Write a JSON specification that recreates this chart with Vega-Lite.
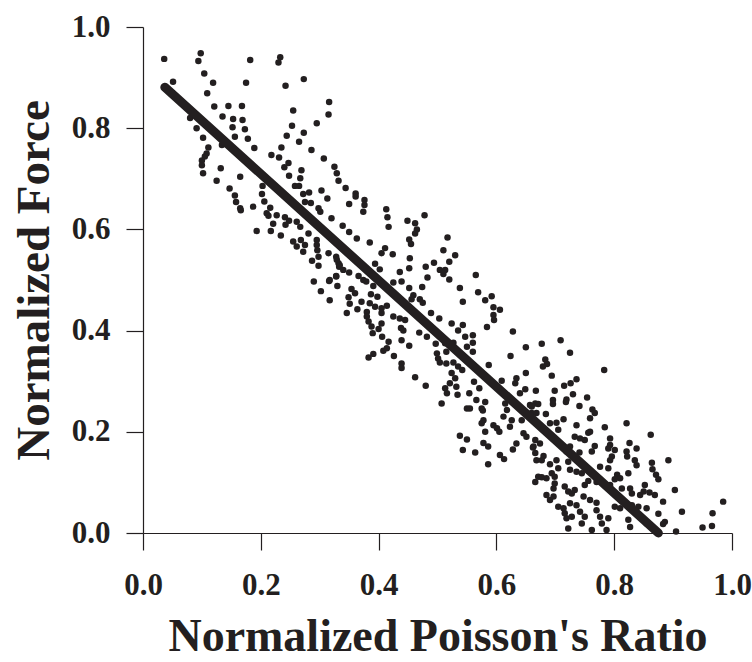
{
"$schema": "https://vega.github.io/schema/vega-lite/v6.json",
"width": 589, "height": 506,
"autosize": {"type": "none"},
"padding": {"left": 143, "top": 27, "right": 20, "bottom": 129},
"background": "white",
"config": {"view": {"stroke": null}, "font": "Liberation Serif"},
"datasets": {
"fit": [{"x": 0.037, "y": 0.881}, {"x": 0.875, "y": 0.0}],
"pts": [
{"x":0.036,"y":0.937},{"x":0.098,"y":0.948},{"x":0.094,"y":0.933},{"x":0.182,"y":0.935},{"x":0.233,"y":0.940},{"x":0.230,"y":0.930},{"x":0.051,"y":0.892},{"x":0.104,"y":0.908},{"x":0.119,"y":0.890},{"x":0.175,"y":0.890},{"x":0.242,"y":0.884},{"x":0.273,"y":0.897},{"x":0.109,"y":0.869},{"x":0.316,"y":0.852},{"x":0.121,"y":0.843},{"x":0.145,"y":0.844},{"x":0.168,"y":0.844},{"x":0.255,"y":0.835},{"x":0.315,"y":0.827},{"x":0.080,"y":0.820},{"x":0.135,"y":0.823},{"x":0.153,"y":0.818},{"x":0.169,"y":0.816},{"x":0.253,"y":0.805},{"x":0.295,"y":0.810},{"x":0.091,"y":0.800},{"x":0.152,"y":0.802},{"x":0.173,"y":0.798},{"x":0.273,"y":0.791},{"x":0.102,"y":0.781},{"x":0.156,"y":0.783},{"x":0.178,"y":0.779},{"x":0.244,"y":0.785},{"x":0.265,"y":0.773},{"x":0.134,"y":0.767},{"x":0.111,"y":0.762},{"x":0.189,"y":0.761},{"x":0.235,"y":0.762},{"x":0.286,"y":0.757},{"x":0.108,"y":0.750},{"x":0.105,"y":0.744},{"x":0.100,"y":0.736},{"x":0.100,"y":0.727},{"x":0.218,"y":0.747},{"x":0.231,"y":0.742},{"x":0.307,"y":0.740},{"x":0.247,"y":0.731},{"x":0.240,"y":0.723},{"x":0.325,"y":0.724},{"x":0.329,"y":0.711},{"x":0.132,"y":0.721},{"x":0.102,"y":0.711},{"x":0.269,"y":0.717},{"x":0.165,"y":0.704},{"x":0.248,"y":0.706},{"x":0.332,"y":0.696},{"x":0.125,"y":0.696},{"x":0.267,"y":0.701},{"x":0.258,"y":0.686},{"x":0.265,"y":0.686},{"x":0.203,"y":0.686},{"x":0.147,"y":0.681},{"x":0.303,"y":0.677},{"x":0.156,"y":0.667},{"x":0.272,"y":0.670},{"x":0.282,"y":0.673},{"x":0.202,"y":0.670},{"x":0.313,"y":0.661},{"x":0.158,"y":0.654},{"x":0.206,"y":0.655},{"x":0.275,"y":0.654},{"x":0.285,"y":0.652},{"x":0.165,"y":0.642},{"x":0.187,"y":0.645},{"x":0.216,"y":0.643},{"x":0.298,"y":0.642},
{"x":0.344,"y":0.682},{"x":0.361,"y":0.671},{"x":0.361,"y":0.665},{"x":0.376,"y":0.658},{"x":0.376,"y":0.648},{"x":0.350,"y":0.650},{"x":0.413,"y":0.640},
{"x":0.166,"y":0.638},{"x":0.210,"y":0.632},{"x":0.213,"y":0.627},{"x":0.227,"y":0.628},{"x":0.241,"y":0.624},{"x":0.248,"y":0.617},{"x":0.261,"y":0.615},{"x":0.267,"y":0.605},{"x":0.301,"y":0.635},{"x":0.320,"y":0.622},{"x":0.221,"y":0.611},{"x":0.242,"y":0.609},{"x":0.217,"y":0.597},{"x":0.193,"y":0.597},{"x":0.234,"y":0.588},{"x":0.281,"y":0.592},{"x":0.255,"y":0.576},{"x":0.268,"y":0.579},{"x":0.261,"y":0.566},{"x":0.275,"y":0.569},{"x":0.272,"y":0.556},{"x":0.295,"y":0.579},{"x":0.295,"y":0.569},{"x":0.296,"y":0.559},{"x":0.298,"y":0.546},{"x":0.287,"y":0.538},{"x":0.298,"y":0.528},{"x":0.315,"y":0.553},{"x":0.328,"y":0.546},{"x":0.332,"y":0.533},{"x":0.333,"y":0.526},{"x":0.290,"y":0.497},{"x":0.316,"y":0.498},{"x":0.328,"y":0.507},{"x":0.330,"y":0.488},{"x":0.302,"y":0.478},{"x":0.317,"y":0.460},
{"x":0.374,"y":0.635},{"x":0.415,"y":0.624},{"x":0.417,"y":0.605},{"x":0.478,"y":0.628},{"x":0.449,"y":0.617},{"x":0.462,"y":0.612},{"x":0.465,"y":0.600},{"x":0.462,"y":0.592},{"x":0.339,"y":0.607},{"x":0.350,"y":0.595},{"x":0.363,"y":0.582},{"x":0.385,"y":0.574},{"x":0.517,"y":0.584},{"x":0.452,"y":0.580},{"x":0.455,"y":0.571},{"x":0.411,"y":0.563},{"x":0.405,"y":0.553},{"x":0.424,"y":0.551},{"x":0.510,"y":0.559},{"x":0.530,"y":0.549},{"x":0.329,"y":0.540},{"x":0.453,"y":0.543},{"x":0.520,"y":0.536},{"x":0.334,"y":0.529},{"x":0.340,"y":0.520},{"x":0.394,"y":0.532},{"x":0.402,"y":0.521},{"x":0.494,"y":0.534},{"x":0.480,"y":0.526},{"x":0.452,"y":0.523},{"x":0.436,"y":0.516},{"x":0.504,"y":0.520},{"x":0.513,"y":0.520},{"x":0.510,"y":0.512},{"x":0.520,"y":0.501},{"x":0.565,"y":0.510},{"x":0.350,"y":0.515},{"x":0.366,"y":0.508},{"x":0.374,"y":0.500},{"x":0.379,"y":0.497},{"x":0.328,"y":0.508},{"x":0.317,"y":0.500},{"x":0.483,"y":0.505},{"x":0.439,"y":0.497},{"x":0.425,"y":0.495},{"x":0.391,"y":0.488},{"x":0.452,"y":0.484},{"x":0.474,"y":0.486},{"x":0.538,"y":0.484},{"x":0.569,"y":0.476},{"x":0.592,"y":0.468},{"x":0.354,"y":0.482},{"x":0.360,"y":0.474},{"x":0.349,"y":0.466},{"x":0.387,"y":0.472},{"x":0.398,"y":0.467},{"x":0.459,"y":0.470},{"x":0.456,"y":0.462},{"x":0.470,"y":0.462},{"x":0.475,"y":0.455},{"x":0.543,"y":0.457},{"x":0.581,"y":0.460},{"x":0.595,"y":0.446},{"x":0.606,"y":0.441},{"x":0.371,"y":0.457},{"x":0.351,"y":0.453},{"x":0.385,"y":0.454},{"x":0.394,"y":0.447},{"x":0.414,"y":0.449},{"x":0.405,"y":0.444},{"x":0.364,"y":0.442},{"x":0.346,"y":0.435},{"x":0.380,"y":0.437},{"x":0.380,"y":0.428},{"x":0.383,"y":0.418},{"x":0.388,"y":0.408},{"x":0.405,"y":0.435},{"x":0.425,"y":0.428},{"x":0.436,"y":0.424},{"x":0.445,"y":0.421},{"x":0.489,"y":0.435},{"x":0.503,"y":0.424},{"x":0.524,"y":0.414},{"x":0.543,"y":0.411},{"x":0.595,"y":0.431},{"x":0.596,"y":0.421},{"x":0.584,"y":0.407},{"x":0.628,"y":0.398},{"x":0.438,"y":0.405},{"x":0.442,"y":0.400},{"x":0.405,"y":0.414},{"x":0.400,"y":0.403},{"x":0.390,"y":0.395},{"x":0.469,"y":0.396},{"x":0.482,"y":0.388},{"x":0.535,"y":0.400},{"x":0.547,"y":0.388},{"x":0.560,"y":0.391},{"x":0.406,"y":0.388},{"x":0.417,"y":0.378},{"x":0.439,"y":0.381},{"x":0.452,"y":0.370},{"x":0.497,"y":0.374},{"x":0.513,"y":0.375},{"x":0.527,"y":0.376},{"x":0.550,"y":0.368},{"x":0.560,"y":0.376},{"x":0.560,"y":0.358},{"x":0.650,"y":0.367},{"x":0.408,"y":0.360},{"x":0.414,"y":0.365},{"x":0.391,"y":0.354},{"x":0.383,"y":0.347},{"x":0.426,"y":0.350},{"x":0.499,"y":0.355},{"x":0.501,"y":0.345},{"x":0.504,"y":0.337},{"x":0.515,"y":0.358},{"x":0.515,"y":0.335},{"x":0.527,"y":0.337},{"x":0.535,"y":0.329},{"x":0.439,"y":0.335},{"x":0.587,"y":0.332},{"x":0.624,"y":0.350},
{"x":0.677,"y":0.374},{"x":0.709,"y":0.381},{"x":0.725,"y":0.356},{"x":0.683,"y":0.343},{"x":0.686,"y":0.334},{"x":0.679,"y":0.329},{"x":0.783,"y":0.322},
{"x":0.439,"y":0.326},{"x":0.462,"y":0.308},{"x":0.480,"y":0.291},{"x":0.524,"y":0.316},{"x":0.530,"y":0.306},{"x":0.521,"y":0.296},{"x":0.513,"y":0.286},{"x":0.516,"y":0.276},{"x":0.507,"y":0.256},{"x":0.532,"y":0.289},{"x":0.534,"y":0.273},{"x":0.542,"y":0.322},{"x":0.554,"y":0.276},{"x":0.566,"y":0.263},{"x":0.562,"y":0.299},{"x":0.571,"y":0.286},{"x":0.550,"y":0.246},{"x":0.555,"y":0.246},{"x":0.575,"y":0.246},{"x":0.577,"y":0.242},{"x":0.609,"y":0.301},{"x":0.632,"y":0.296},{"x":0.634,"y":0.306},{"x":0.650,"y":0.316},{"x":0.640,"y":0.276},{"x":0.649,"y":0.284},{"x":0.667,"y":0.281},{"x":0.581,"y":0.259},{"x":0.615,"y":0.256},{"x":0.618,"y":0.243},{"x":0.612,"y":0.230},{"x":0.626,"y":0.223},{"x":0.623,"y":0.210},{"x":0.578,"y":0.223},{"x":0.575,"y":0.217},{"x":0.595,"y":0.213},{"x":0.601,"y":0.207},{"x":0.605,"y":0.200},{"x":0.581,"y":0.200},{"x":0.538,"y":0.192},{"x":0.550,"y":0.185},{"x":0.578,"y":0.178},{"x":0.586,"y":0.171},{"x":0.543,"y":0.164},{"x":0.564,"y":0.159},{"x":0.606,"y":0.154},{"x":0.613,"y":0.146},{"x":0.586,"y":0.136},{"x":0.634,"y":0.177},{"x":0.628,"y":0.165},{"x":0.646,"y":0.197},{"x":0.651,"y":0.190},{"x":0.643,"y":0.223},{"x":0.657,"y":0.233},{"x":0.663,"y":0.223},{"x":0.657,"y":0.253},{"x":0.666,"y":0.256},{"x":0.666,"y":0.184},{"x":0.662,"y":0.169},{"x":0.666,"y":0.158},{"x":0.668,"y":0.144},{"x":0.666,"y":0.101},{"x":0.671,"y":0.111},
{"x":0.694,"y":0.311},{"x":0.736,"y":0.304},{"x":0.726,"y":0.296},{"x":0.715,"y":0.291},{"x":0.699,"y":0.281},{"x":0.730,"y":0.274},{"x":0.719,"y":0.264},{"x":0.718,"y":0.259},{"x":0.754,"y":0.268},{"x":0.696,"y":0.263},{"x":0.696,"y":0.255},{"x":0.671,"y":0.255},{"x":0.741,"y":0.251},{"x":0.763,"y":0.244},{"x":0.767,"y":0.237},{"x":0.660,"y":0.250},{"x":0.660,"y":0.237},{"x":0.668,"y":0.237},{"x":0.684,"y":0.235},{"x":0.714,"y":0.225},{"x":0.759,"y":0.227},{"x":0.821,"y":0.217},{"x":0.691,"y":0.217},{"x":0.702,"y":0.218},{"x":0.705,"y":0.204},{"x":0.736,"y":0.213},{"x":0.784,"y":0.209},{"x":0.759,"y":0.200},{"x":0.756,"y":0.198},{"x":0.862,"y":0.194},{"x":0.733,"y":0.190},{"x":0.742,"y":0.187},{"x":0.750,"y":0.184},{"x":0.793,"y":0.187},{"x":0.793,"y":0.174},{"x":0.790,"y":0.167},{"x":0.826,"y":0.178},{"x":0.663,"y":0.171},{"x":0.674,"y":0.177},{"x":0.725,"y":0.171},{"x":0.719,"y":0.161},{"x":0.767,"y":0.172},{"x":0.762,"y":0.161},{"x":0.838,"y":0.167},{"x":0.801,"y":0.164},{"x":0.821,"y":0.161},{"x":0.822,"y":0.151},{"x":0.741,"y":0.159},{"x":0.680,"y":0.152},{"x":0.677,"y":0.144},{"x":0.702,"y":0.144},{"x":0.691,"y":0.136},{"x":0.722,"y":0.141},{"x":0.796,"y":0.151},{"x":0.793,"y":0.144},{"x":0.776,"y":0.131},{"x":0.790,"y":0.128},{"x":0.835,"y":0.144},{"x":0.838,"y":0.134},{"x":0.864,"y":0.139},{"x":0.865,"y":0.126},{"x":0.892,"y":0.144},{"x":0.705,"y":0.128},{"x":0.694,"y":0.118},{"x":0.699,"y":0.111},{"x":0.736,"y":0.121},{"x":0.745,"y":0.118},{"x":0.725,"y":0.125},{"x":0.762,"y":0.119},{"x":0.805,"y":0.115},{"x":0.810,"y":0.108},{"x":0.824,"y":0.118},{"x":0.871,"y":0.115},{"x":0.875,"y":0.106},{"x":0.685,"y":0.108},{"x":0.677,"y":0.110},{"x":0.699,"y":0.098},{"x":0.697,"y":0.088},{"x":0.716,"y":0.092},{"x":0.722,"y":0.082},{"x":0.733,"y":0.085},{"x":0.728,"y":0.078},{"x":0.750,"y":0.095},{"x":0.770,"y":0.101},{"x":0.756,"y":0.103},{"x":0.801,"y":0.106},{"x":0.793,"y":0.095},{"x":0.813,"y":0.088},{"x":0.827,"y":0.088},{"x":0.830,"y":0.078},{"x":0.844,"y":0.075},{"x":0.850,"y":0.082},{"x":0.852,"y":0.095},{"x":0.860,"y":0.080},{"x":0.869,"y":0.075},{"x":0.883,"y":0.062},{"x":0.903,"y":0.085},{"x":0.915,"y":0.042},{"x":0.985,"y":0.062},{"x":0.967,"y":0.039},{"x":0.966,"y":0.014},{"x":0.950,"y":0.011},{"x":0.905,"y":0.003},{"x":0.685,"y":0.075},{"x":0.691,"y":0.065},{"x":0.697,"y":0.072},{"x":0.705,"y":0.052},{"x":0.714,"y":0.049},{"x":0.725,"y":0.059},{"x":0.736,"y":0.055},{"x":0.748,"y":0.072},{"x":0.759,"y":0.065},{"x":0.770,"y":0.060},{"x":0.716,"y":0.039},{"x":0.728,"y":0.032},{"x":0.719,"y":0.029},{"x":0.742,"y":0.042},{"x":0.750,"y":0.032},{"x":0.745,"y":0.019},{"x":0.776,"y":0.032},{"x":0.790,"y":0.029},{"x":0.779,"y":0.019},{"x":0.722,"y":0.009},{"x":0.762,"y":0.006},{"x":0.787,"y":0.006},{"x":0.824,"y":0.026},{"x":0.827,"y":0.012},{"x":0.875,"y":0.038},{"x":0.886,"y":0.022},{"x":0.883,"y":0.018},{"x":0.844,"y":0.032},{"x":0.855,"y":0.019},{"x":0.801,"y":0.052},{"x":0.810,"y":0.049},{"x":0.770,"y":0.045},{"x":0.830,"y":0.055},{"x":0.841,"y":0.052},{"x":0.855,"y":0.049}
]
},
"layer": [
{
"data": {"name": "pts"},
"mark": {"type": "circle", "size": 42, "color": "#231f20", "opacity": 1},
"encoding": {
"x": {"field": "x", "type": "quantitative", "scale": {"domain": [0, 1], "nice": false},
"axis": {"title": "Normalized Poisson's Ratio", "values": [0, 0.2, 0.4, 0.6, 0.8, 1], "format": ".1f", "grid": false,
"tickSize": 17, "tickWidth": 1.2, "tickColor": "#231f20", "domainColor": "#231f20", "domainWidth": 1.2,
"labelFont": "Liberation Serif", "labelFontSize": 31, "labelFontWeight": "bold", "labelColor": "#231f20", "labelPadding": 20, "labelFlush": false, "labelOverlap": false,
"titleFont": "Liberation Serif", "titleFontSize": 46, "titleFontWeight": "bold", "titleColor": "#231f20", "titleBaseline": "alphabetic", "titleY": 117}},
"y": {"field": "y", "type": "quantitative", "scale": {"domain": [0, 1], "nice": false},
"axis": {"title": "Normalized Force", "values": [0, 0.2, 0.4, 0.6, 0.8, 1], "format": ".1f", "grid": false,
"tickSize": 17, "tickWidth": 1.2, "tickColor": "#231f20", "domainColor": "#231f20", "domainWidth": 1.2,
"labelFont": "Liberation Serif", "labelFontSize": 31, "labelFontWeight": "bold", "labelColor": "#231f20", "labelPadding": 16, "labelFlush": false, "labelOverlap": false,
"titleFont": "Liberation Serif", "titleFontSize": 47, "titleFontWeight": "bold", "titleColor": "#231f20", "titleAngle": 270, "titleBaseline": "alphabetic", "titleAlign": "center", "titleX": -95, "titleY": 253}}
}
},
{
"data": {"name": "fit"},
"mark": {"type": "line", "color": "#231f20", "strokeWidth": 9, "strokeCap": "round"},
"encoding": {
"x": {"field": "x", "type": "quantitative"},
"y": {"field": "y", "type": "quantitative"}
}
}
]
}
